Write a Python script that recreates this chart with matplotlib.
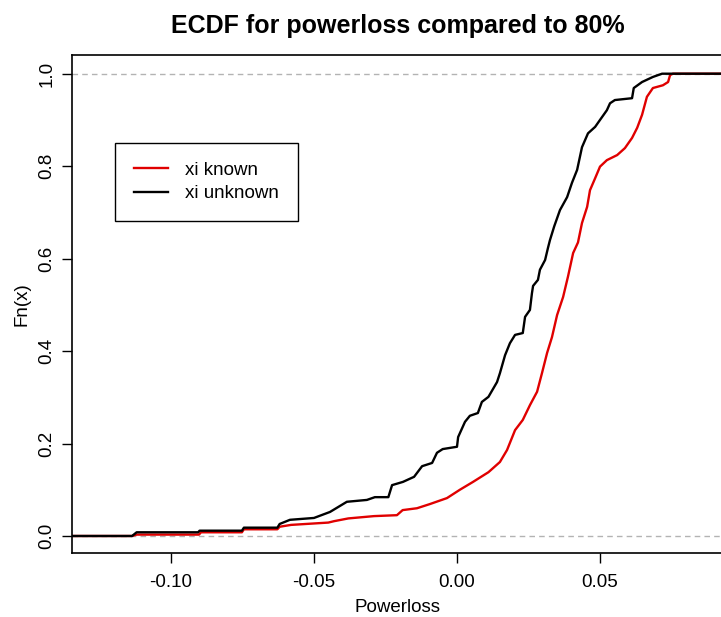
import matplotlib
matplotlib.use("Agg")
import matplotlib.pyplot as plt

plt.rcParams["font.family"] = ["Liberation Sans", "DejaVu Sans"]

# ECDF outline: x = powerloss, y = Fn(x)
known_x = [-0.14, -0.1136, -0.112, -0.0902, -0.0895, -0.0752, -0.0745, -0.0628, -0.062,
           -0.058, -0.045, -0.043, -0.038, -0.029, -0.021, -0.019, -0.014, -0.0095,
           -0.0035, 0.001, 0.0056, 0.011, 0.015, 0.0175, 0.0203, 0.023, 0.0255, 0.028,
           0.0297, 0.0315, 0.0332, 0.035, 0.0371, 0.0388, 0.0406, 0.0423, 0.0437, 0.0455,
           0.0465, 0.0483, 0.050, 0.0524, 0.056, 0.0587, 0.0612, 0.063, 0.0647, 0.0664,
           0.0685, 0.072, 0.0738, 0.0745, 0.0755, 0.10]
known_y = [0.0, 0.0, 0.003, 0.003, 0.008, 0.008, 0.0145, 0.0145, 0.020,
           0.024, 0.029, 0.032, 0.038, 0.043, 0.045, 0.056, 0.060, 0.069,
           0.082, 0.100, 0.117, 0.138, 0.160, 0.186, 0.229, 0.251, 0.283, 0.312,
           0.352, 0.396, 0.430, 0.478, 0.517, 0.561, 0.612, 0.635, 0.677, 0.712,
           0.748, 0.774, 0.799, 0.813, 0.824, 0.839, 0.861, 0.883, 0.911, 0.950,
           0.969, 0.975, 0.982, 0.997, 1.0, 1.0]

unknown_x = [-0.14, -0.1136, -0.112, -0.0905, -0.090, -0.0752, -0.0745, -0.0628, -0.062,
             -0.0584, -0.050, -0.0444, -0.0385, -0.0315, -0.0287, -0.024, -0.0227,
             -0.0189, -0.015, -0.0122, -0.0087, -0.007, -0.005, 0.0, 0.0004, 0.0028,
             0.0045, 0.0073, 0.0087, 0.011, 0.014, 0.015, 0.0168, 0.0185, 0.0203, 0.023,
             0.0238, 0.0255, 0.0262, 0.0266, 0.0283, 0.029, 0.0308, 0.0318, 0.0325,
             0.034, 0.036, 0.0385, 0.0402, 0.042, 0.0437, 0.0458, 0.0483, 0.050, 0.0524,
             0.0535, 0.0552, 0.0612, 0.0618, 0.0647, 0.0685, 0.0717, 0.10]
unknown_y = [0.0, 0.0, 0.008, 0.008, 0.0115, 0.0115, 0.018, 0.018, 0.026,
             0.035, 0.039, 0.052, 0.074, 0.078, 0.084, 0.084, 0.110,
             0.117, 0.128, 0.151, 0.158, 0.180, 0.188, 0.193, 0.214, 0.247,
             0.260, 0.266, 0.290, 0.301, 0.333, 0.352, 0.391, 0.417, 0.435, 0.439,
             0.474, 0.489, 0.525, 0.541, 0.554, 0.576, 0.597, 0.623, 0.640,
             0.670, 0.705, 0.733, 0.764, 0.792, 0.841, 0.871, 0.885, 0.900, 0.921,
             0.936, 0.943, 0.947, 0.969, 0.982, 0.993, 1.0, 1.0]

x_ticks = [-0.10, -0.05, 0.00, 0.05]
y_ticks = [0.0, 0.2, 0.4, 0.6, 0.8, 1.0]

fig = plt.figure(figsize=(7.21, 6.17), dpi=100)
ax = fig.add_axes([72 / 721, 64 / 617, 651 / 721, 497.7 / 617])

ax.axhline(0, color="#b3b3b3", linewidth=1, linestyle=(0, (4, 3)))
ax.axhline(1, color="#b3b3b3", linewidth=1, linestyle=(0, (4, 3)))

ax.plot(known_x, known_y, color="#e00000", linewidth=1.7, label="xi known")
ax.plot(unknown_x, unknown_y, color="black", linewidth=1.7, label="xi unknown")

ax.set_xlim(-0.1346, 0.0930)
ax.set_ylim(-0.0368, 1.0398)

ax.set_xticks(x_ticks)
ax.set_xticklabels([f"{v:.2f}" for v in x_ticks])
ax.set_yticks(y_ticks)
ax.set_yticklabels([f"{v:.1f}" for v in y_ticks], rotation=90, va="center")
ax.tick_params(axis="both", labelsize=13.5, length=7, width=1)
ax.tick_params(axis="x", pad=8)
ax.tick_params(axis="y", pad=5)

for side in ax.spines.values():
    side.set_linewidth(1.2)

ax.set_title("ECDF for powerloss compared to 80%", fontsize=18, fontweight="bold", pad=16)
ax.set_xlabel("Powerloss", fontsize=13.5, labelpad=6)
ax.set_ylabel("Fn(x)", fontsize=13.5, labelpad=6)

leg = ax.legend(loc="upper left", bbox_to_anchor=(0.066, 0.824), borderaxespad=0,
                fontsize=13.5, frameon=True, fancybox=False, edgecolor="black",
                framealpha=1, handlelength=1.85, handletextpad=0.9,
                labelspacing=0.35, borderpad=1.0)
leg.get_frame().set_linewidth(1.0)

fig.savefig("out.png", dpi=100)
plt.close(fig)
